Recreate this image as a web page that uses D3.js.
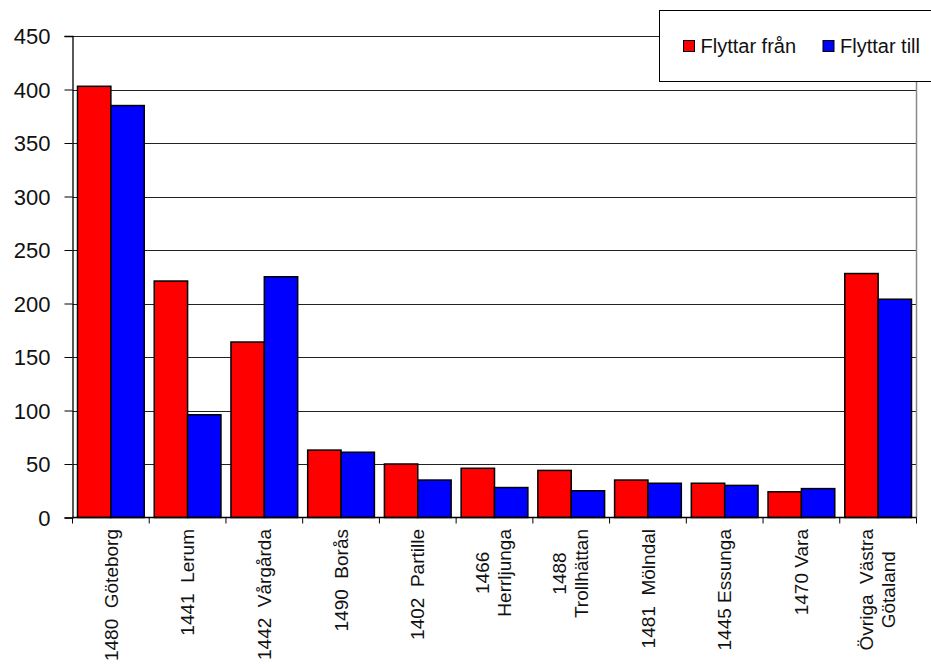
<!DOCTYPE html>
<html>
<head>
<meta charset="utf-8">
<script src="https://cdn.jsdelivr.net/npm/d3@7"></script>
<style>
  html, body { margin: 0; padding: 0; background: #fff; }
  svg { display: block; font-family: "Liberation Sans", Arial, sans-serif; }
</style>
</head>
<body>
<svg id="chart" width="931" height="665"></svg>
<script>
// Municipalities (each label line separated by "\n")
const categories = [
  "1480  Göteborg",
  "1441  Lerum",
  "1442  Vårgårda",
  "1490  Borås",
  "1402  Partille",
  "1466\nHerrljunga",
  "1488\nTrollhättan",
  "1481  Mölndal",
  "1445 Essunga",
  "1470 Vara",
  "Övriga  Västra\nGötaland"
];
const seriesNames = ["Flyttar från", "Flyttar till"];
const flyttarFran = [403, 221, 164, 63, 50, 46, 44, 35, 32, 24, 228];
const flyttarTill = [385, 96, 225, 61, 35, 28, 25, 32, 30, 27, 204];
const seriesColors = ["#ff0000", "#0000ff"];
const yTicks = [0, 50, 100, 150, 200, 250, 300, 350, 400, 450];

const svg = d3.select("#chart");
const plotLeft = 72.5, plotRight = 916.5, plotTop = 36, plotBottom = 517.5;

const x = d3.scaleBand().domain(d3.range(categories.length)).range([plotLeft, plotRight]).padding(0);
const x1 = d3.scaleBand().domain([0, 1]).range([0, x.bandwidth()]).paddingInner(0).paddingOuter(0.15);
const y = d3.scaleLinear().domain([0, 450]).range([plotBottom, plotTop]);

// horizontal gridlines
svg.append("g")
  .selectAll("line")
  .data(yTicks.filter(d => d > 0))
  .join("line")
  .attr("x1", plotLeft).attr("x2", plotRight)
  .attr("y1", d => Math.round(y(d)) + 0.5).attr("y2", d => Math.round(y(d)) + 0.5)
  .attr("stroke", "#222").attr("stroke-width", 1);

// right border of the plot area
svg.append("line")
  .attr("x1", plotRight).attr("x2", plotRight).attr("y1", plotTop).attr("y2", plotBottom)
  .attr("stroke", "#8a8a8a").attr("stroke-width", 1.5);

// bars
const rows = categories.map((c, i) => [flyttarFran[i], flyttarTill[i]]);
const groups = svg.append("g").selectAll("g")
  .data(rows)
  .join("g")
  .attr("transform", (d, i) => `translate(${x(i)},0)`);
groups.selectAll("rect")
  .data(d => d.map((v, k) => ({ v, k })))
  .join("rect")
  .attr("x", d => x1(d.k))
  .attr("width", x1.bandwidth())
  .attr("y", d => y(d.v))
  .attr("height", d => y(0) - y(d.v))
  .attr("fill", d => seriesColors[d.k])
  .attr("stroke", "#000")
  .attr("stroke-width", 1.5);

// y axis
const yAxis = svg.append("g")
  .attr("transform", `translate(${plotLeft},0)`)
  .call(d3.axisLeft(y).tickValues(yTicks).tickSize(8).tickPadding(14).tickFormat(d3.format("d")));
yAxis.select(".domain").attr("stroke", "#000").attr("stroke-width", 1.3);
yAxis.selectAll(".tick line").attr("stroke", "#000");
yAxis.selectAll(".tick text")
  .attr("font-family", "Liberation Sans, Arial, sans-serif")
  .attr("font-size", 22).attr("fill", "#111").attr("dy", "0.35em");

// x axis: ticks at category boundaries
const xAxisG = svg.append("g").attr("transform", `translate(0,${plotBottom})`);
xAxisG.append("line").attr("x1", plotLeft).attr("x2", plotRight).attr("y1", 0).attr("y2", 0)
  .attr("stroke", "#000").attr("stroke-width", 1.3);
xAxisG.selectAll("line.tk")
  .data(d3.range(categories.length + 1))
  .join("line").attr("class", "tk")
  .attr("x1", i => i < categories.length ? x(i) : plotRight)
  .attr("x2", i => i < categories.length ? x(i) : plotRight)
  .attr("y1", 0).attr("y2", 6)
  .attr("stroke", "#000");

// rotated category labels, lines centred on one another, block anchored below the axis
const labelTop = 529, lineStep = 22;
categories.forEach((label, i) => {
  const lines = label.split("\n");
  const cx = x(i) + x.bandwidth() / 2 - (lines.length > 1 ? 1 : 0);
  const g = svg.append("g");
  const texts = lines.map((ln, j) => {
    const off = (j - (lines.length - 1) / 2) * lineStep;
    return g.append("text")
      .attr("xml:space", "preserve")
      .style("white-space", "pre")
      .attr("font-size", 19)
      .attr("fill", "#111")
      .attr("text-anchor", "end")
      .attr("dy", "0.35em")
      .attr("data-off", off)
      .text(ln);
  });
  const lens = texts.map(t => t.node().getComputedTextLength());
  const maxLen = d3.max(lens);
  texts.forEach((t, j) => {
    const off = +t.attr("data-off");
    const ty = labelTop + (maxLen - lens[j]) / 2;
    t.attr("transform", `translate(${cx + off},${ty}) rotate(-90)`);
  });
});

// legend
const legend = svg.append("g");
legend.append("rect")
  .attr("x", 659.5).attr("y", 10.5).attr("width", 300).attr("height", 71)
  .attr("fill", "#fff").attr("stroke", "#000").attr("stroke-width", 1);
const legendX = [683.5, 823];
seriesNames.forEach((name, k) => {
  legend.append("rect")
    .attr("x", legendX[k]).attr("y", 40.5).attr("width", 11).attr("height", 11)
    .attr("fill", seriesColors[k]).attr("stroke", "#000").attr("stroke-width", 1);
  legend.append("text")
    .attr("x", legendX[k] + 17).attr("y", 53)
    .attr("font-size", 20).attr("fill", "#111")
    .text(name);
});
</script>
</body>
</html>
